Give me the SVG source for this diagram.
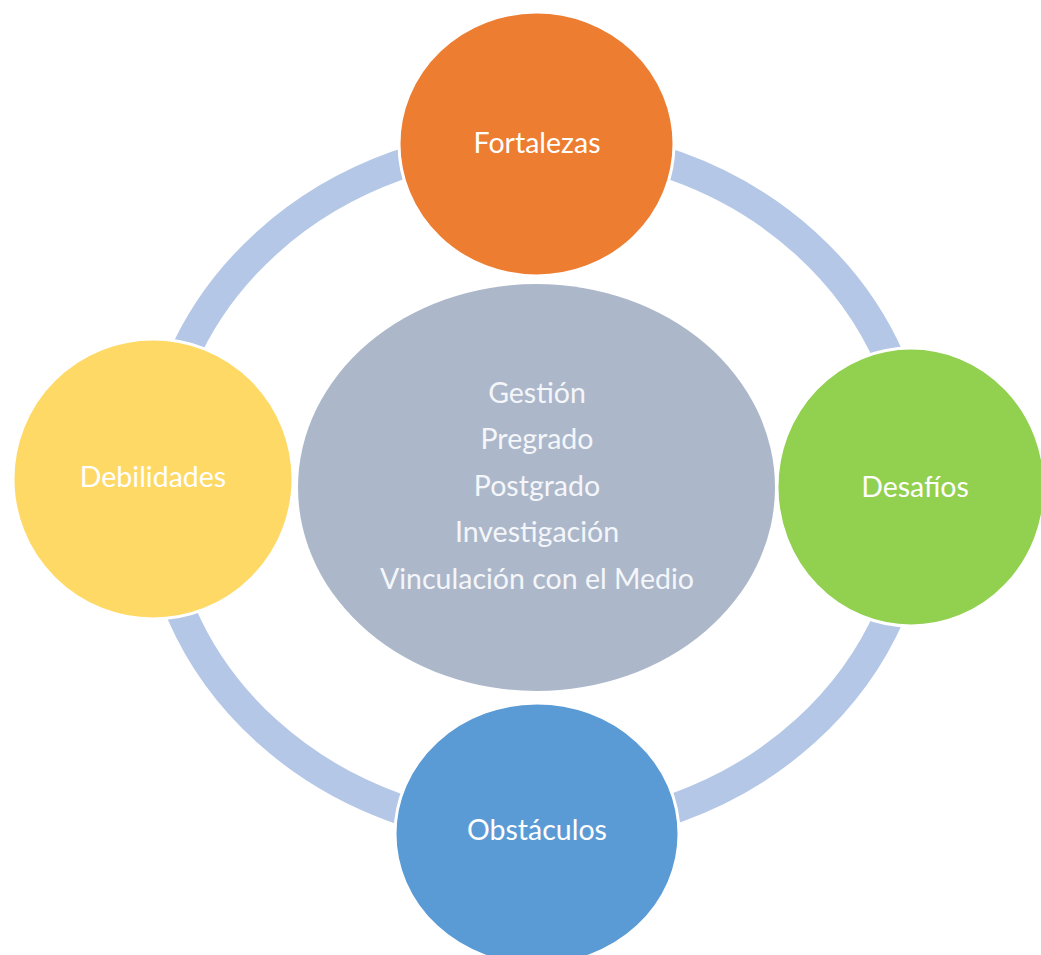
<svg xmlns="http://www.w3.org/2000/svg" width="1041" height="955" viewBox="0 0 1041 955">
  <style>
    .ring { fill: none; stroke: #B4C7E7; stroke-width: 30; }
    .node { stroke: #FFFFFF; stroke-width: 3; }
    .lbl { font-family: Lato, "Open Sans", "Liberation Sans", sans-serif; font-size: 28.5px; fill: #FFFFFF; text-anchor: middle; }
    .hub { font-family: Lato, "Open Sans", "Liberation Sans", sans-serif; font-size: 28.5px; fill: #F4F6FA; text-anchor: middle; }
  </style>
  <rect width="1041" height="955" fill="#FFFFFF"/>

  <!-- connecting ring through the four outer nodes -->
  <g id="connectors">
    <ellipse class="ring" cx="536" cy="487" rx="381" ry="345"/>
  </g>

  <!-- central hub -->
  <g id="node-center">
    <ellipse cx="536.5" cy="487.5" rx="238.5" ry="203.5" fill="#ACB8CA"/>
    <text class="hub" x="537" y="403">Gestión</text>
    <text class="hub" x="537" y="449">Pregrado</text>
    <text class="hub" x="537" y="496">Postgrado</text>
    <text class="hub" x="537" y="542">Investigación</text>
    <text class="hub" x="537" y="589">Vinculación con el Medio</text>
  </g>

  <g id="node-fortalezas">
    <ellipse class="node" cx="536.5" cy="144" rx="137.5" ry="132" fill="#ED7D31"/>
    <text class="lbl" x="537" y="153">Fortalezas</text>
  </g>

  <g id="node-debilidades">
    <ellipse class="node" cx="153" cy="479" rx="140" ry="140" fill="#FFD966"/>
    <text class="lbl" x="153" y="487">Debilidades</text>
  </g>

  <g id="node-desafios">
    <ellipse class="node" cx="911" cy="487" rx="134" ry="139" fill="#92D050"/>
    <text class="lbl" x="915" y="497">Desafíos</text>
  </g>

  <g id="node-obstaculos">
    <ellipse class="node" cx="537" cy="834" rx="142" ry="131" fill="#5B9BD5"/>
    <text class="lbl" x="537" y="840">Obstáculos</text>
  </g>
</svg>
